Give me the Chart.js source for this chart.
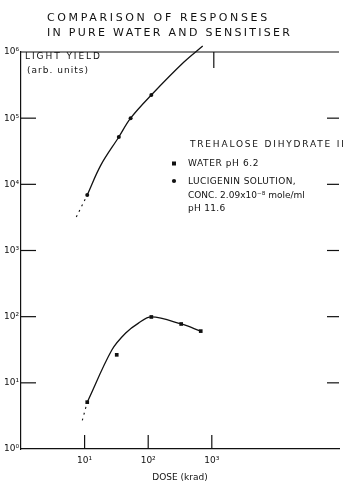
<!DOCTYPE html>
<html><head><meta charset="utf-8">
<script src="https://cdn.jsdelivr.net/npm/chart.js@4.4.1/dist/chart.umd.min.js"></script>
<style>html,body{margin:0;padding:0;background:#fff;overflow:hidden}canvas{display:block}</style>
</head><body>
<canvas id="c" width="343" height="485"></canvas>
<script>
// ---- text ----
const titleLines = ['COMPARISON OF RESPONSES', 'IN PURE WATER AND SENSITISER'];
const yAxisTitle = ['LIGHT YIELD', '(arb. units)'];
const xAxisTitle = 'DOSE (krad)';
const legendHeader = 'TREHALOSE DIHYDRATE IN';
const legendWater = ['WATER pH 6.2'];
const legendLucigenin = ['LUCIGENIN SOLUTION,', 'CONC. 2.09x10⁻⁸ mole/ml', 'pH 11.6'];

// ---- ticks ----
const yTickValues = [1, 10, 100, 1000, 1e4, 1e5, 1e6];
const yTickLabels = ['10⁰', '10¹', '10²', '10³', '10⁴', '10⁵', '10⁶'];
const xTickValues = [10, 100, 1000];
const xTickLabels = ['10¹', '10²', '10³'];

// ---- water pH 6.2 (squares) ----
const waterDose  = [11, 32, 112, 330, 670];
const waterLight = [5.1, 26.5, 99, 77.5, 60.5];
const waterCurveDose  = [11, 26.8, 44.3, 70.4, 112, 330, 670];
const waterCurveLight = [5.1, 31.3, 56.6, 80, 99, 77.5, 60.5];
const waterExtDose  = [9.2, 11];
const waterExtLight = [2.7, 5.1];

// ---- lucigenin solution (dots) ----
const lucDose  = [11, 34.5, 52.9, 112, 720];
const lucLight = [6900, 51900, 100000, 224000, 1230000];
const lucCurveDose  = [11, 18, 34.5, 52.9, 112, 365, 720];
const lucCurveLight = [6900, 19500, 51900, 100000, 224000, 705000, 1230000];
const lucExtDose  = [7.4, 11];
const lucExtLight = [3200, 6900];

const pts = (xs, ys) => xs.map((v, i) => ({x: v, y: ys[i]}));
const INK = '#111';
const FONT = '"DejaVu Sans", sans-serif';

function labelFor(values, labels, v) {
  for (let i = 0; i < values.length; i++) {
    if (Math.abs(Math.log10(v) - Math.log10(values[i])) < 1e-6) return labels[i];
  }
  return null;
}

function drawFit(ctx, text, x, y, size, width) {
  ctx.font = size + 'px ' + FONT;
  ctx.letterSpacing = '0px';
  const w = ctx.measureText(text).width;
  const sp = text.length > 1 ? Math.max(0, (width - w) / (text.length - 1)) : 0;
  ctx.letterSpacing = sp.toFixed(2) + 'px';
  ctx.fillText(text, x, y);
  ctx.letterSpacing = '0px';
}
function drawSp(ctx, text, x, y, size, sp) {
  ctx.font = size + 'px ' + FONT;
  ctx.letterSpacing = sp + 'px';
  ctx.fillText(text, x, y);
  ctx.letterSpacing = '0px';
}

const decor = {
  id: 'decor',
  afterDraw(chart) {
    const {ctx, chartArea: a, scales: {x, y}} = chart;
    ctx.save();
    ctx.strokeStyle = INK;
    ctx.lineWidth = 1.2;
    const ln = (x1, y1, x2, y2) => { ctx.beginPath(); ctx.moveTo(x1, y1); ctx.lineTo(x2, y2); ctx.stroke(); };
    // top frame line
    ln(a.left - 1, a.top, a.right, a.top);
    // inward ticks on left and right
    yTickValues.slice(1, -1).forEach(v => {
      const py = y.getPixelForValue(v);
      ln(a.left, py, a.left + 15, py);
      ln(a.right - 12, py, a.right, py);
    });
    // bottom ticks (upward)
    xTickValues.forEach(v => {
      const px = x.getPixelForValue(v);
      ln(px, a.bottom, px, a.bottom - 14);
    });
    // top tick at 10^3 (downward)
    const pt = x.getPixelForValue(1000) + 2;
    ln(pt, a.top, pt, a.top + 16);

    ctx.fillStyle = INK;
    ctx.textBaseline = 'middle';
    ctx.textAlign = 'left';
    // title
    drawFit(ctx, titleLines[0], 47, 18, 11, 220);
    drawFit(ctx, titleLines[1], 47, 33, 11, 243);
    // y axis title
    drawFit(ctx, yAxisTitle[0], 25, 57, 9, 75);
    drawFit(ctx, yAxisTitle[1], 27, 71, 9, 61);
    // legend
    drawFit(ctx, legendHeader, 190, 145, 9, 158);
    drawSp(ctx, legendWater[0], 188, 164, 9, 0.6);
    drawSp(ctx, legendLucigenin[0], 188, 182, 9, 0.4);
    drawSp(ctx, legendLucigenin[1], 188, 196, 9, 0);
    drawSp(ctx, legendLucigenin[2], 188, 209, 9, 0.3);
    // legend markers
    ctx.fillRect(172, 161.5, 4, 4);
    ctx.beginPath(); ctx.arc(174, 181, 2.1, 0, Math.PI * 2); ctx.fill();
    ctx.restore();
  }
};

new Chart(document.getElementById('c'), {
  type: 'line',
  data: {
    datasets: [
      { data: pts(waterCurveDose, waterCurveLight), borderColor: INK, borderWidth: 1.3, pointRadius: 0, tension: 0.35, clip: false },
      { data: pts(waterExtDose, waterExtLight), borderColor: INK, borderWidth: 1.1, borderDash: [2, 4], pointRadius: 0, clip: false },
      { data: pts(waterDose, waterLight), showLine: false, pointStyle: 'rect', pointRadius: 2.6, backgroundColor: INK, borderColor: INK, borderWidth: 0, clip: false },
      { data: pts(lucCurveDose, lucCurveLight), borderColor: INK, borderWidth: 1.3, pointRadius: 0, tension: 0.35, clip: false },
      { data: pts(lucExtDose, lucExtLight), borderColor: INK, borderWidth: 1.1, borderDash: [2, 4], pointRadius: 0, clip: false },
      { data: pts(lucDose, lucLight), showLine: false, pointStyle: 'circle', pointRadius: 2, backgroundColor: INK, borderColor: INK, borderWidth: 0, clip: false }
    ]
  },
  options: {
    responsive: false,
    animation: false,
    devicePixelRatio: 1,
    layout: { padding: { top: 52, right: 0, left: 0, bottom: 0 } },
    plugins: { legend: { display: false }, tooltip: { enabled: false }, title: { display: false } },
    scales: {
      x: {
        type: 'logarithmic', min: 1, max: 1e5,
        grid: { display: false, drawTicks: false },
        border: { display: true, color: INK, width: 1.2 },
        ticks: { autoSkip: false, maxRotation: 0, padding: 6, color: INK, font: { family: FONT, size: 9 },
          callback: v => labelFor(xTickValues, xTickLabels, v) },
        title: { display: true, text: xAxisTitle, color: INK, font: { family: FONT, size: 9 }, padding: { top: 0, bottom: 2 } },
        afterFit: s => { s.height = 36; }
      },
      y: {
        type: 'logarithmic', min: 1, max: 1e6,
        grid: { display: false, drawTicks: false },
        border: { display: true, color: INK, width: 1.2 },
        ticks: { autoSkip: false, padding: 2, color: INK, font: { family: FONT, size: 9 },
          callback: v => labelFor(yTickValues, yTickLabels, v) },
        afterFit: s => { s.width = 21; }
      }
    }
  },
  plugins: [decor]
});
</script>
</body></html>
